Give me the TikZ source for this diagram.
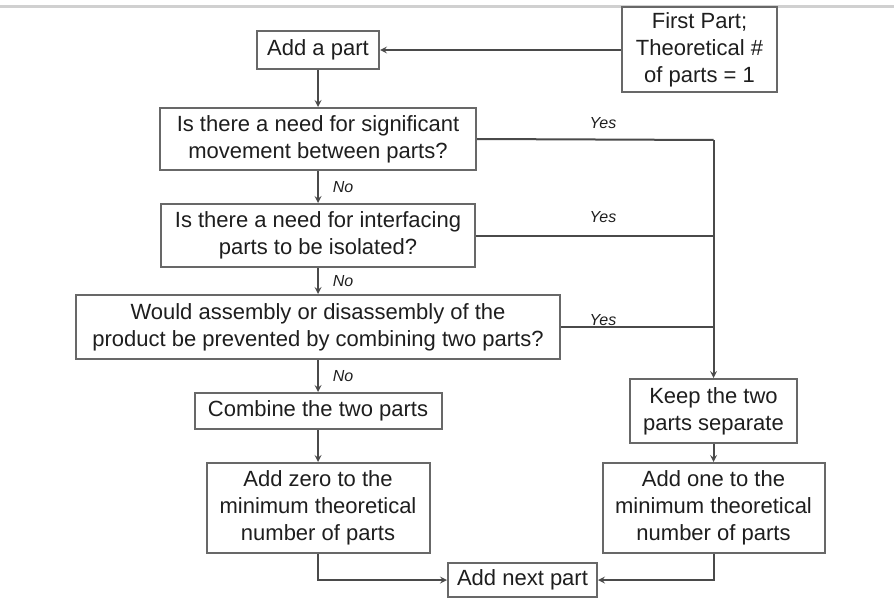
\documentclass[tikz,border=0pt]{standalone}
\usepackage{fontspec}
\setmainfont{Liberation Sans}
\usepackage{xcolor}
\usetikzlibrary{positioning}
\definecolor{boxgray}{HTML}{686868}
\definecolor{linegray}{HTML}{4A4A4A}
\definecolor{textdark}{HTML}{1E1E1E}
\definecolor{rulegray}{HTML}{D0D0D0}

\begin{document}
\begin{tikzpicture}[
      x=1pt, y=-1pt,
      box/.style={draw=boxgray, fill=white, line width=2pt, align=center, inner sep=2pt,
        text=textdark, font=\fontsize{22}{27}\selectfont},
      arrow/.style={->, >=stealth, line width=2pt, draw=linegray},
      link/.style={line width=2pt, draw=linegray},
      ans/.style={text=textdark, font=\fontsize{16}{16}\selectfont\itshape, inner sep=0pt}
    ]
      \useasboundingbox (0,0) rectangle (894,599);
      \draw[rulegray, line width=3pt] (0,7) -- (894,7);

      \node[box, minimum width=122pt, minimum height=38pt] (addpart) at (318,50) {Add a part};
      \node[box, minimum width=155pt, minimum height=85pt] (first) at (699.5,49.5) {First Part;\\Theoretical \#\\of parts = 1};
      \node[box, minimum width=316pt, minimum height=62pt, below=37pt of addpart] (movement) {Is there a need for significant\\movement between parts?};
      \node[box, minimum width=314pt, minimum height=63pt, below=32pt of movement] (isolate) {Is there a need for interfacing\\parts to be isolated?};
      \node[box, minimum width=484pt, minimum height=64pt, below=26pt of isolate] (prevent) {Would assembly or disassembly of the\\product be prevented by combining two parts?};
      \node[box, minimum width=247pt, minimum height=36pt, below=32pt of prevent] (combine) {Combine the two parts};
      \node[box, minimum width=223pt, minimum height=90pt, below=32pt of combine] (addzero) {Add zero to the\\minimum theoretical\\number of parts};
      \node[box, minimum width=167pt, minimum height=64pt] (keep) at (713.5,411) {Keep the two\\parts separate};
      \node[box, minimum width=222pt, minimum height=90pt, below=18pt of keep] (addone) {Add one to the\\minimum theoretical\\number of parts};
      \node[box, minimum width=149pt, minimum height=34pt] (nextpart) at (522.5,580) {Add next part};

      \coordinate (trunk) at (713.5,140);

      \node[ans] (no1) at (343,187) {No};
      \node[ans] (no2) at (343,281) {No};
      \node[ans] (no3) at (343,376) {No};
      \node[ans] (yes1) at (603,123) {Yes};
      \node[ans] (yes2) at (603,217) {Yes};
      \node[ans] (yes3) at (603,320) {Yes};

      \draw[arrow] (first.west |- addpart.east) -- (addpart.east);
      \draw[arrow] (addpart) -- (movement);
      \draw[arrow] (movement) -- (isolate);
      \draw[arrow] (isolate) -- (prevent);
      \draw[arrow] (prevent) -- (combine);
      \draw[arrow] (combine) -- (addzero);
      \draw[link] (movement.east) -- (trunk);
      \draw[link] (isolate.east) -- (isolate.east -| trunk);
      \draw[link] (prevent.east) -- (prevent.east -| trunk);
      \draw[arrow] (trunk) -- (keep.north);
      \draw[arrow] (keep) -- (addone);
      \draw[arrow] (addzero.south) |- (nextpart.west);
      \draw[arrow] (addone.south) |- (nextpart.east);
    \end{tikzpicture}
\end{document}
